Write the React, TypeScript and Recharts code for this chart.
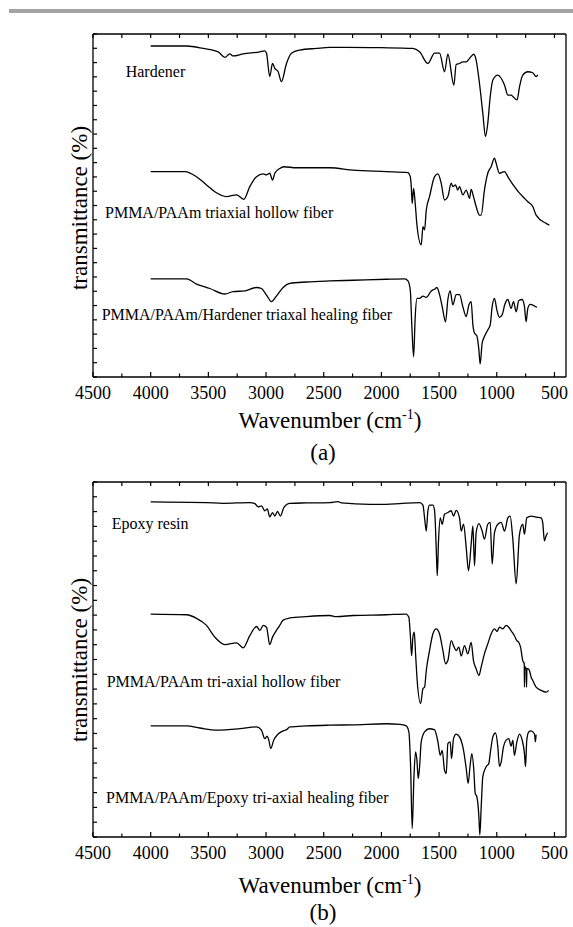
import React from 'react';
import { LineChart, Line, XAxis, YAxis } from 'recharts';

// wavenumber ticks (cm-1): every 250, labelled every 500
const X_TICKS = [4500, 4250, 4000, 3750, 3500, 3250, 3000, 2750, 2500, 2250, 2000, 1750, 1500, 1250, 1000, 750, 500];
const X_LABELS = [4500, 4000, 3500, 3000, 2500, 2000, 1500, 1000, 500];
const Y_TICKS = Array.from({ length: 25 }, (_, i) => (i * 100) / 24);

// (a) spectra: [wavenumber, transmittance a.u.]
const hardener: [number, number][] = [
  [4000, 96.5], [3689, 96.5], [3545, 95.8], [3415, 94.8], [3357, 93.2], [3314, 94.2], [3285, 93.6], [3198, 94.2],
  [3054, 94.8], [3011, 95.1], [2996, 94.4], [2968, 87.6], [2944, 91.4], [2924, 90.0], [2895, 89.0], [2867, 86.1],
  [2823, 91.4], [2780, 94.4], [2708, 95.3], [2563, 95.8], [2448, 96.1], [2300, 96.1], [2000, 96.0], [1727, 95.8],
  [1669, 94.8], [1597, 91.4], [1539, 94.4], [1496, 94.4], [1453, 89.0], [1424, 94.1], [1372, 85.1], [1352, 91.1],
  [1323, 91.4], [1294, 91.9], [1265, 91.9], [1236, 92.9], [1199, 94.1], [1179, 92.4], [1150, 85.6], [1121, 76.9],
  [1098, 70.1], [1078, 74.0], [1057, 81.7], [1034, 86.6], [991, 88.0], [962, 87.1], [933, 85.1], [904, 82.2],
  [876, 82.2], [861, 81.8], [824, 80.8], [803, 84.6], [775, 88.0], [731, 89.0], [688, 88.7], [659, 87.6], [645, 88.1],
];

const hollowA: [number, number][] = [
  [4000, 59.9], [3703, 59.9], [3603, 58.4], [3516, 56.0], [3444, 54.0], [3343, 52.6], [3256, 53.1], [3193, 51.8],
  [3141, 55.5], [3083, 58.4], [3025, 59.2], [2996, 58.9], [2968, 59.4], [2944, 57.4], [2924, 59.4], [2881, 60.8],
  [2846, 61.3], [2737, 61.0], [2448, 61.0], [2246, 60.3], [1958, 59.9], [1770, 59.6], [1750, 58.4], [1741, 55.5],
  [1733, 50.6], [1721, 55.0], [1707, 50.6], [1692, 44.3], [1655, 38.5], [1640, 43.8], [1626, 42.9], [1611, 48.7],
  [1583, 52.6], [1539, 58.4], [1510, 59.2], [1482, 56.5], [1453, 51.6], [1424, 52.6], [1395, 56.5], [1381, 55.5],
  [1358, 56.0], [1338, 54.5], [1323, 55.5], [1294, 53.1], [1265, 54.5], [1236, 52.1], [1222, 54.7], [1202, 52.6],
  [1179, 49.7], [1150, 47.2], [1135, 47.2], [1107, 54.5], [1078, 59.4], [1049, 61.3], [1020, 63.8], [1006, 62.4],
  [977, 59.4], [933, 59.9], [904, 58.4], [876, 56.9], [847, 55.5], [803, 53.6], [760, 52.1], [731, 51.1],
  [688, 49.7], [659, 47.2], [573, 44.8], [544, 44.3],
];

const healingA: [number, number][] = [
  [4000, 28.6], [3689, 28.6], [3603, 27.1], [3487, 25.8], [3357, 24.2], [3285, 24.9], [3184, 25.1], [3083, 26.1],
  [3040, 25.8], [2996, 23.9], [2953, 22.0], [2910, 23.6], [2852, 26.1], [2794, 27.3], [2650, 27.7], [2448, 28.0],
  [2246, 28.2], [1958, 28.5], [1799, 28.6], [1770, 28.0], [1750, 25.4], [1736, 14.7], [1721, 5.9], [1707, 17.6],
  [1692, 22.9], [1669, 22.9], [1640, 23.6], [1611, 23.2], [1568, 25.1], [1539, 25.6], [1519, 26.1], [1496, 24.0],
  [1473, 20.5], [1444, 16.1], [1424, 22.6], [1404, 25.1], [1381, 21.0], [1352, 24.0], [1323, 24.0], [1294, 20.5],
  [1265, 17.6], [1242, 21.0], [1222, 22.0], [1207, 15.2], [1193, 12.8], [1173, 12.0], [1155, 7.9], [1144, 3.8],
  [1127, 9.8], [1107, 11.8], [1078, 13.7], [1057, 15.2], [1040, 20.5], [1020, 22.9], [999, 19.5], [977, 17.4],
  [954, 18.1], [930, 21.2], [904, 22.6], [876, 20.0], [855, 22.0], [832, 19.0], [809, 22.3], [780, 22.6],
  [760, 20.5], [746, 16.1], [731, 20.0], [711, 21.2], [673, 20.7], [653, 20.3],
];

// (b) spectra
const epoxy: [number, number][] = [
  [4000, 94.4], [3516, 94.2], [3372, 94.0], [3141, 94.2], [3097, 93.9], [3069, 93.0], [3040, 93.3], [3011, 91.9],
  [2989, 92.4], [2968, 90.2], [2944, 91.4], [2924, 90.4], [2901, 91.7], [2875, 90.4], [2846, 92.8], [2794, 94.0],
  [2650, 94.1], [2448, 94.2], [2376, 94.5], [2347, 94.1], [2102, 93.7], [1958, 93.7], [1842, 93.9], [1669, 94.2],
  [1640, 93.5], [1626, 89.9], [1611, 86.2], [1597, 91.9], [1583, 93.5], [1554, 93.5], [1539, 91.9], [1525, 81.5],
  [1516, 73.6], [1505, 83.4], [1490, 89.9], [1473, 88.1], [1453, 90.9], [1424, 91.4], [1395, 91.9], [1375, 90.4],
  [1352, 92.0], [1323, 89.9], [1308, 86.2], [1288, 88.1], [1265, 81.5], [1245, 75.0], [1222, 82.5], [1207, 87.6],
  [1193, 76.4], [1179, 85.7], [1155, 88.3], [1127, 86.2], [1107, 83.9], [1078, 88.1], [1057, 88.6], [1040, 76.9],
  [1020, 85.7], [991, 88.1], [962, 88.6], [933, 86.2], [904, 89.9], [884, 90.4], [861, 83.9], [832, 71.3],
  [803, 85.3], [775, 88.1], [760, 85.3], [740, 89.9], [702, 90.4], [659, 90.1], [616, 89.9], [602, 88.6],
  [587, 83.4], [573, 84.8], [558, 85.7],
];

const hollowB: [number, number][] = [
  [4000, 62.8], [3689, 62.6], [3603, 61.6], [3516, 59.6], [3444, 56.3], [3357, 54.2], [3256, 54.7], [3198, 53.3],
  [3141, 56.7], [3083, 59.3], [3054, 58.2], [3025, 59.6], [2996, 59.1], [2968, 54.2], [2944, 56.3], [2910, 58.2],
  [2881, 59.6], [2852, 61.1], [2794, 61.7], [2650, 62.1], [2448, 62.4], [2391, 62.1], [2246, 62.4], [1958, 62.6],
  [1785, 62.8], [1762, 61.9], [1750, 57.2], [1738, 51.1], [1727, 56.3], [1715, 57.7], [1704, 51.6], [1692, 45.0],
  [1660, 37.6], [1640, 41.8], [1626, 42.2], [1611, 46.9], [1583, 52.5], [1554, 57.2], [1525, 58.6], [1496, 57.2],
  [1467, 52.5], [1444, 48.8], [1424, 49.7], [1395, 55.3], [1375, 53.9], [1352, 52.5], [1329, 53.5], [1308, 51.0],
  [1280, 53.9], [1251, 51.6], [1222, 54.8], [1202, 49.7], [1179, 47.4], [1155, 45.5], [1135, 47.9], [1107, 51.6],
  [1078, 54.4], [1049, 57.2], [1020, 58.6], [997, 57.9], [977, 59.1], [948, 58.6], [919, 59.6], [896, 59.1],
  [876, 58.1], [847, 56.7], [826, 55.3], [809, 54.8], [794, 53.5], [775, 49.7], [762, 48.8], [760, 42.2],
  [757, 48.0], [745, 47.4], [742, 42.2], [739, 47.4], [731, 47.4], [717, 46.9], [702, 45.0], [688, 44.1],
  [659, 42.2], [616, 41.3], [573, 40.8], [550, 41.3],
];

const healingB: [number, number][] = [
  [4000, 31.3], [3689, 31.3], [3574, 30.7], [3429, 30.1], [3227, 30.5], [3083, 31.0], [3040, 30.1], [3011, 27.7],
  [2990, 28.4], [2976, 27.3], [2959, 24.9], [2933, 27.3], [2895, 29.0], [2852, 29.9], [2823, 30.2], [2794, 31.0],
  [2650, 31.3], [2448, 31.5], [2246, 31.6], [1958, 31.9], [1842, 31.7], [1785, 31.3], [1762, 29.6], [1747, 19.8],
  [1733, 2.4], [1718, 17.0], [1704, 24.0], [1692, 21.6], [1681, 16.5], [1669, 19.8], [1655, 26.8], [1626, 29.6],
  [1583, 30.5], [1539, 30.2], [1510, 26.8], [1490, 23.0], [1473, 24.4], [1453, 18.8], [1438, 17.9], [1424, 26.3],
  [1404, 26.8], [1392, 22.1], [1375, 27.7], [1352, 29.0], [1323, 28.2], [1288, 24.4], [1265, 19.3], [1248, 15.1],
  [1231, 20.2], [1216, 23.5], [1199, 18.8], [1187, 12.3], [1173, 11.4], [1155, 5.7], [1147, 0.6], [1135, 8.5],
  [1121, 17.0], [1092, 19.8], [1069, 20.7], [1057, 23.5], [1034, 28.2], [1011, 29.3], [991, 25.4], [977, 19.9],
  [962, 21.1], [942, 25.4], [919, 27.3], [896, 27.7], [876, 25.6], [861, 27.3], [847, 23.0], [826, 26.8],
  [803, 29.0], [780, 27.3], [760, 23.5], [751, 19.8], [740, 27.3], [723, 29.6], [702, 29.9], [673, 29.0],
  [665, 26.8], [659, 28.8],
];

const SERIF = 'Liberation Serif';
const INK = '#000';

const BottomTick = (props: any) => {
  const { x, y, payload } = props;
  const major = X_LABELS.includes(payload.value);
  return (
    <g>
      <line x1={x} x2={x} y1={y} y2={y - (major ? 5 : 3.5)} stroke={INK} strokeWidth={1.2} />
      {major && (
        <text x={x} y={y + 21.5} textAnchor="middle" fontFamily={SERIF} fontSize={18} fill={INK}>
          {payload.value}
        </text>
      )}
    </g>
  );
};

const TopTick = (props: any) => {
  const { x, y } = props;
  return <line x1={x} x2={x} y1={y} y2={y + 4} stroke={INK} strokeWidth={1.2} />;
};

const LeftTick = (props: any) => {
  const { x, y } = props;
  return <line x1={x} x2={x + 4} y1={y} y2={y} stroke={INK} strokeWidth={1.2} />;
};

const NoTick = () => <g />;

const toPoints = (s: [number, number][]) => s.map(([w, t]) => ({ w, t }));

function Panel({ series, top, height, bottom }: { series: [number, number][][]; top: number; height: number; bottom: number }) {
  return (
    <div style={{ position: 'absolute', left: 0, top, width: 573, height }}>
      <LineChart width={573} height={height} margin={{ top: 34, right: 7, left: 93, bottom }}>
        <XAxis
          dataKey="w"
          type="number"
          domain={[400, 4500]}
          reversed
          allowDataOverflow
          ticks={X_TICKS}
          interval={0}
          tick={BottomTick}
          tickLine={false}
          tickSize={0}
          tickMargin={0}
          height={30}
          axisLine={{ stroke: INK, strokeWidth: 1.3 }}
        />
        <XAxis
          xAxisId="top"
          orientation="top"
          mirror
          height={1}
          dataKey="w"
          type="number"
          domain={[400, 4500]}
          reversed
          allowDataOverflow
          ticks={X_TICKS}
          interval={0}
          tick={TopTick}
          tickLine={false}
          tickSize={0}
          tickMargin={0}
          axisLine={{ stroke: INK, strokeWidth: 1.3 }}
        />
        <YAxis
          yAxisId="l"
          mirror
          width={1}
          type="number"
          domain={[0, 100]}
          ticks={Y_TICKS}
          interval={0}
          tick={LeftTick}
          tickLine={false}
          tickSize={0}
          tickMargin={0}
          axisLine={{ stroke: INK, strokeWidth: 1.3 }}
        />
        <YAxis
          yAxisId="r"
          orientation="right"
          mirror
          width={1}
          type="number"
          domain={[0, 100]}
          ticks={[0, 100]}
          tick={NoTick}
          tickLine={false}
          tickSize={0}
          axisLine={{ stroke: INK, strokeWidth: 1.3 }}
        />
        {series.map((s, i) => (
          <Line
            key={i}
            data={toPoints(s)}
            dataKey="t"
            yAxisId="l"
            type="monotone"
            stroke={INK}
            strokeWidth={1.3}
            dot={false}
            isAnimationActive={false}
          />
        ))}
      </LineChart>
    </div>
  );
}

const labelStyle = { fontFamily: SERIF, fontSize: 16, fill: INK } as const;
const titleStyle = { fontFamily: SERIF, fontSize: 23, fill: INK } as const;

export default function App() {
  return (
    <div style={{ position: 'absolute', left: 0, top: 0, width: 573, height: 927, background: '#fff', overflow: 'hidden' }}>
      <div style={{ position: 'absolute', left: 9, top: 9, width: 564, height: 3.5, background: '#a3a3a3' }} />
      <Panel series={[hardener, hollowA, healingA]} top={0} height={440} bottom={33} />
      <Panel series={[epoxy, hollowB, healingB]} top={448} height={460} bottom={41} />
      <svg width={573} height={927} style={{ position: 'absolute', left: 0, top: 0, pointerEvents: 'none' }}>
        <text x={125.7} y={76.5} {...labelStyle}>Hardener</text>
        <text x={105} y={218.3} {...labelStyle}>PMMA/PAAm triaxial hollow fiber</text>
        <text x={101.7} y={320} {...labelStyle}>PMMA/PAAm/Hardener triaxal healing fiber</text>
        <text x={111.7} y={529} {...labelStyle}>Epoxy resin</text>
        <text x={106.7} y={687} {...labelStyle}>PMMA/PAAm tri-axial hollow fiber</text>
        <text x={106} y={802.7} {...labelStyle}>PMMA/PAAm/Epoxy tri-axial healing fiber</text>

        <text x={87} y={208} transform="rotate(-90, 87, 208)" textAnchor="middle" {...titleStyle}>transmittance (%)</text>
        <text x={87} y={660} transform="rotate(-90, 87, 660)" textAnchor="middle" {...titleStyle}>transmittance (%)</text>

        <text x={330} y={428.3} textAnchor="middle" {...titleStyle}>
          Wavenumber (cm<tspan fontSize={14} dy={-9}>-1</tspan><tspan dy={9}>)</tspan>
        </text>
        <text x={323} y={460} textAnchor="middle" {...titleStyle}>(a)</text>
        <text x={330} y={893.3} textAnchor="middle" {...titleStyle}>
          Wavenumber (cm<tspan fontSize={14} dy={-9}>-1</tspan><tspan dy={9}>)</tspan>
        </text>
        <text x={323} y={920} textAnchor="middle" {...titleStyle}>(b)</text>
      </svg>
    </div>
  );
}
